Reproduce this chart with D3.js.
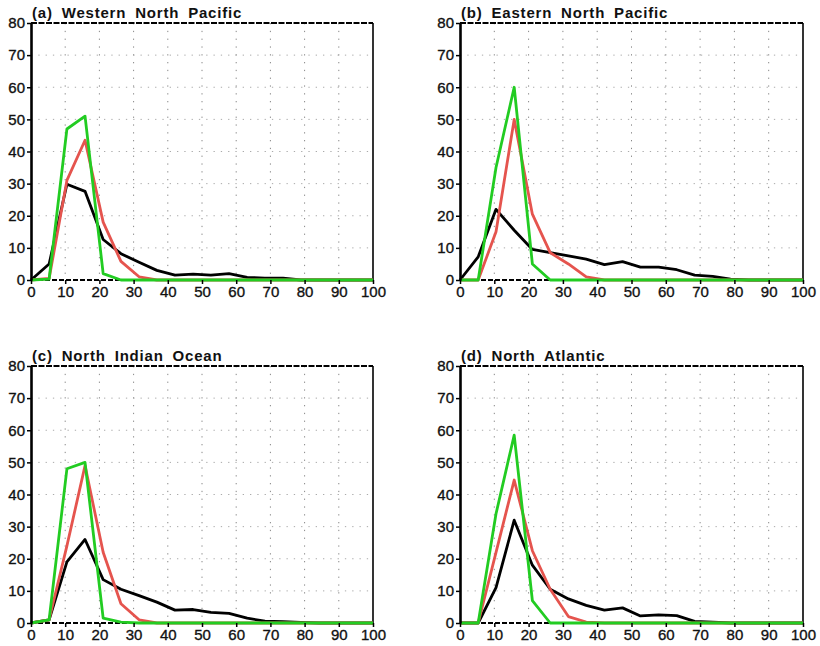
<!DOCTYPE html>
<html>
<head>
<meta charset="utf-8">
<script src="https://cdn.jsdelivr.net/npm/d3@7"></script>
<style>
  body { margin: 0; background: #fff; }
  svg text { font-family: "Liberation Sans", Arial, sans-serif; fill: #111; }
  .title { font-size: 15px; font-weight: bold; letter-spacing: 0.8px; word-spacing: 4px; }
</style>
</head>
<body>
<svg id="graph"></svg>
<script>
var screenWidth = 820;
var screenHeight = 646;

// bin positions along x (20 bins spread over 0..100)
var binX = [0, 5.3, 10.5, 15.8, 21.1, 26.3, 31.6, 36.8, 42.1, 47.4, 52.6, 57.9, 63.2, 68.4, 73.7, 78.9, 84.2, 89.5, 94.7, 100];

var xTicks = [0, 10, 20, 30, 40, 50, 60, 70, 80, 90, 100];
var yTicks = [0, 10, 20, 30, 40, 50, 60, 70, 80];

var panelTitles = ["(a) Western North Pacific", "(b) Eastern North Pacific", "(c) North Indian Ocean", "(d) North Atlantic"];

// (a) WNP
var wnpBlack = [0, 5, 29.8, 27.6, 12.6, 8.2, 5.5, 3, 1.5, 1.8, 1.5, 2, 0.8, 0.6, 0.6, 0, 0, 0, 0, 0];
var wnpRed   = [0, 0.5, 31, 43.5, 18, 5.8, 1, 0, 0, 0, 0, 0, 0, 0, 0, 0, 0, 0, 0, 0];
var wnpGreen = [0, 0.3, 47, 51, 2, 0, 0, 0, 0, 0, 0, 0, 0, 0, 0, 0, 0, 0, 0, 0];
// (b) ENP
var enpBlack = [0, 7.2, 22, 15.5, 9.5, 8.5, 7.5, 6.5, 4.8, 5.7, 4, 4, 3.2, 1.5, 1.1, 0.3, 0, 0, 0, 0];
var enpRed   = [0, 0, 15, 50, 20.5, 8.5, 5, 1, 0, 0, 0, 0, 0, 0, 0, 0, 0, 0, 0, 0];
var enpGreen = [0, 0, 35, 60, 5, 0, 0, 0, 0, 0, 0, 0, 0, 0, 0, 0, 0, 0, 0, 0];
// (c) NIO
var nioBlack = [0, 1, 19, 26, 13.5, 10.5, 8.5, 6.5, 4, 4.2, 3.3, 3, 1.5, 0.6, 0.4, 0.2, 0, 0, 0, 0];
var nioRed   = [0, 1, 24, 49, 22, 6, 1, 0, 0, 0, 0, 0, 0, 0, 0, 0, 0, 0, 0, 0];
var nioGreen = [0, 1, 48, 50, 1.5, 0.3, 0, 0, 0, 0, 0, 0, 0, 0, 0, 0, 0, 0, 0, 0];
// (d) NA
var naBlack = [0, 0, 11, 32, 18, 10.5, 7.5, 5.5, 4, 4.7, 2.2, 2.5, 2.3, 0.5, 0.3, 0, 0, 0, 0, 0];
var naRed   = [0, 0, 22, 44.5, 22.5, 10.5, 2, 0.3, 0, 0, 0, 0, 0, 0, 0, 0, 0, 0, 0, 0];
var naGreen = [0, 0, 34, 58.5, 7, 0, 0, 0, 0, 0, 0, 0, 0, 0, 0, 0, 0, 0, 0, 0];

var panelSeries = [
	[wnpBlack, wnpRed, wnpGreen],
	[enpBlack, enpRed, enpGreen],
	[nioBlack, nioRed, nioGreen],
	[naBlack, naRed, naGreen]
];
var seriesColors = ["#000000", "#e5544e", "#22cc22"];

// plot area positions of the four panels
var panelBox = [
	{ left: 31, top: 23, width: 342, height: 257 },
	{ left: 460, top: 23, width: 343, height: 257 },
	{ left: 31, top: 366, width: 342, height: 257 },
	{ left: 460, top: 366, width: 343, height: 257 }
];

var svg = d3.select('#graph')
	.attr('width', screenWidth)
	.attr('height', screenHeight);

panelBox.forEach(function(box, p) {
	var g = svg.append('g')
		.attr('transform', 'translate(' + box.left + ',' + box.top + ')');

	var x = d3.scaleLinear().domain([0, 100]).range([0, box.width]);
	var y = d3.scaleLinear().domain([0, 80]).range([box.height, 0]);

	// dotted grid
	g.append('g').selectAll('line')
		.data(xTicks.slice(1, -1))
		.enter().append('line')
		.attr('x1', function(d) { return x(d); })
		.attr('x2', function(d) { return x(d); })
		.attr('y1', 0)
		.attr('y2', box.height)
		.attr('stroke', '#888')
		.attr('stroke-width', 1)
		.attr('stroke-dasharray', '1.3,6.5');
	g.append('g').selectAll('line')
		.data(yTicks.slice(1, -1))
		.enter().append('line')
		.attr('x1', 0)
		.attr('x2', box.width)
		.attr('y1', function(d) { return y(d); })
		.attr('y2', function(d) { return y(d); })
		.attr('stroke', '#aaa')
		.attr('stroke-width', 1)
		.attr('stroke-dasharray', '1.3,6');

	// zero line (dashed, mostly hidden under the curves)
	g.append('line')
		.attr('x1', 0).attr('x2', box.width)
		.attr('y1', y(0)).attr('y2', y(0))
		.attr('stroke', '#000')
		.attr('stroke-width', 2)
		.attr('stroke-dasharray', '5,2');

	// frame: right and top
	g.append('line')
		.attr('x1', box.width).attr('x2', box.width)
		.attr('y1', 0).attr('y2', box.height)
		.attr('stroke', '#000').attr('stroke-width', 1.6);
	g.append('line')
		.attr('x1', 0).attr('x2', box.width)
		.attr('y1', 0).attr('y2', 0)
		.attr('stroke', '#000').attr('stroke-width', 2)
		.attr('stroke-dasharray', '6,1.5');

	// curves
	var line = d3.line()
		.x(function(d, i) { return x(binX[i]); })
		.y(function(d) { return y(d); });
	panelSeries[p].forEach(function(values, s) {
		g.append('path')
			.datum(values)
			.attr('d', line)
			.attr('fill', 'none')
			.attr('stroke', seriesColors[s])
			.attr('stroke-width', 2.8)
			.attr('stroke-linejoin', 'round');
	});

	// axes
	var xAxis = g.append('g')
		.attr('transform', 'translate(0,' + box.height + ')')
		.call(d3.axisBottom(x).tickValues(xTicks).tickSize(4).tickPadding(2).tickSizeOuter(0));
	xAxis.select('.domain').remove();
	xAxis.selectAll('line').attr('stroke', '#000').attr('stroke-width', 1.5);

	var yAxis = g.append('g')
		.call(d3.axisLeft(y).tickValues(yTicks).tickSize(4).tickPadding(2).tickSizeOuter(0));
	yAxis.select('.domain').attr('stroke', '#000').attr('stroke-width', 2.6);
	yAxis.selectAll('line').attr('stroke', '#000').attr('stroke-width', 1.5);

	g.selectAll('.tick text')
		.attr('fill', '#111')
		.style('font-family', '"Liberation Sans", Arial, sans-serif')
		.style('font-size', '15px')
		.style('stroke', '#111')
		.style('stroke-width', '0.35px');

	// title
	g.append('text')
		.classed('title', true)
		.attr('x', 1)
		.attr('y', -5)
		.text(panelTitles[p]);
});
</script>
</body>
</html>
